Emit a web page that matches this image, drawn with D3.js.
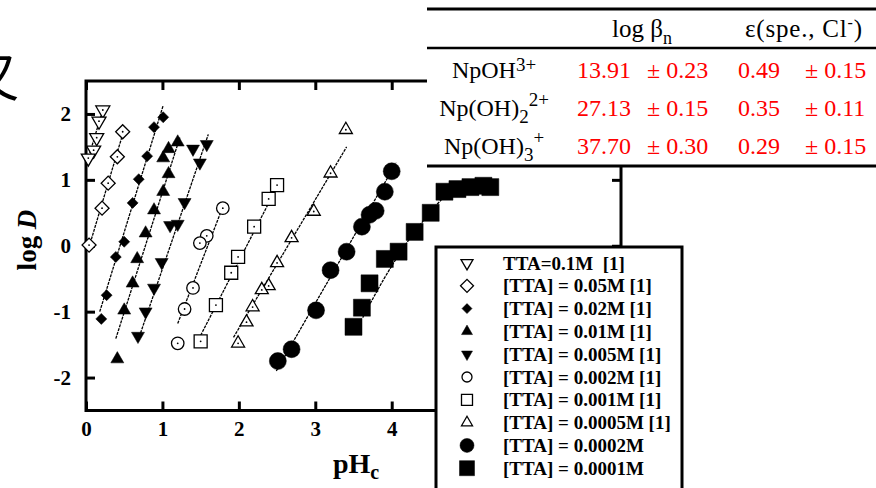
<!DOCTYPE html>
<html>
<head>
<meta charset="utf-8">
<script src="https://cdn.jsdelivr.net/npm/d3@7"></script>
<style>
  body { margin: 0; background: #fff; }
  svg text { font-family: "Liberation Serif", "Times New Roman", serif; }
</style>
</head>
<body>
<div id="main-vis"></div>
<script>
// log D vs pHc, one array per [TTA]
const tta01   = [[0.22, 2.06], [0.17, 1.89], [0.14, 1.64], [0.10, 1.45], [0.03, 1.33]]
const tta005  = [[0.48, 1.73], [0.41, 1.35], [0.29, 0.95], [0.21, 0.57], [0.04, 0.01]]
const tta002  = [[1.01, 1.95], [0.89, 1.80], [0.80, 1.36], [0.69, 1.01], [0.61, 0.65],
                 [0.50, 0.06], [0.39, -0.17], [0.27, -0.75], [0.20, -1.11]]
const tta001  = [[1.20, 1.57], [1.08, 1.47], [1.01, 1.33], [1.08, 1.09], [1.01, 0.82], [0.89, 0.54],
                 [0.78, 0.19], [0.67, -0.20], [0.61, -0.57], [0.50, -0.98], [0.41, -1.72]]
const tta0005 = [[1.58, 1.54], [1.40, 1.47], [1.49, 1.26], [1.29, 0.66], [1.20, 0.33],
                 [1.10, 0.31], [0.99, -0.25], [0.89, -0.64], [0.78, -1.00], [0.68, -1.37]]
const tta0002 = [[1.79, 0.57], [1.58, 0.15], [1.49, 0.04], [1.40, -0.64], [1.29, -0.96], [1.20, -1.48]]
const tta0001 = [[2.50, 0.92], [2.39, 0.71], [2.20, 0.29], [1.99, -0.17], [1.90, -0.41], [1.70, -0.90], [1.50, -1.45]]
const tta00005 = [[3.40, 1.76], [3.20, 1.10], [2.98, 0.52], [2.69, 0.12], [2.50, -0.26], [2.39, -0.61],
                  [2.30, -0.67], [2.18, -0.93], [2.10, -1.16], [1.99, -1.48]]
const tta00002 = [[4.00, 1.13], [3.91, 0.82], [3.79, 0.53], [3.71, 0.47], [3.61, 0.29],
                  [3.41, -0.09], [3.20, -0.37], [3.01, -0.98], [2.69, -1.57], [2.51, -1.75]]
const tta00001 = [[3.50, -1.23], [3.61, -0.94], [3.71, -0.57], [3.91, -0.20], [4.09, -0.09], [4.30, 0.21],
                  [4.51, 0.50], [4.69, 0.82], [4.86, 0.86], [5.03, 0.89], [5.20, 0.91], [5.29, 0.89]]

// fitted curves
const fits = [
  [[0.02, 1.29], [0.23, 2.10]],
  [[0.04, -0.02], [0.50, 1.77]],
  [[0.18, -1.00], [1.01, 2.13]],
  [[0.39, -1.41], [1.23, 1.65]],
  [[0.68, -1.44], [1.60, 1.69]],
  [[1.20, -1.18], [1.76, 0.50]],
  [[1.50, -1.36], [2.48, 0.85]],
  [[1.93, -1.39], [3.41, 1.50]],
  [[2.49, -1.90], [4.06, 1.26]],
  [[3.62, -1.09], [3.90, -0.50], [4.20, 0.05], [4.50, 0.50], [4.70, 0.75], [4.90, 0.86], [5.30, 0.90]]
]

const legendLabels = ["TTA=0.1M  [1]", "[TTA] = 0.05M [1]", "[TTA] = 0.02M [1]", "[TTA] = 0.01M [1]",
  "[TTA] = 0.005M [1]", "[TTA] = 0.002M [1]", "[TTA] = 0.001M [1]", "[TTA] = 0.0005M [1]",
  "[TTA] = 0.0002M", "[TTA] = 0.0001M"]
const allSeries = [tta01, tta005, tta002, tta001, tta0005, tta0002, tta0001, tta00005, tta00002, tta00001]
const shapes = ["triDown", "diamond", "diamond", "triUp", "triDown", "circle", "square", "triUp", "circle", "square"]
const filled = [false, false, true, true, true, false, false, false, true, true]
const xTicks = [0, 1, 2, 3, 4, 5, 6, 7]
const xTickLabels = ["0", "1", "2", "3", "4", "", "", ""]   // 5-7 sit under the legend box
const yTicks = [-2, -1, 0, 1, 2]

// table
const species    = ["NpOH", "Np(OH)", "Np(OH)"]
const speciesSub = ["", "2", "3"]
const speciesSup = ["3+", "2+", "+"]
const logBeta    = ["13.91", "27.13", "37.70"]
const logBetaErr = ["0.23", "0.15", "0.30"]
const eps        = ["0.49", "0.35", "0.29"]
const epsErr     = ["0.15", "0.11", "0.15"]

const plotSize = [14, 14, 11, 13, 13, 12.5, 13, 13, 17, 17]
const legSize  = [12, 13, 10, 11, 11, 10, 11, 11, 14, 15]

window.onload = setup

function symbolPath (shape, w) {
  if (shape === 'circle') return d3.symbol(d3.symbolCircle, Math.PI * (w / 2) ** 2)()
  if (shape === 'square') return d3.symbol(d3.symbolSquare, w * w)()
  if (shape === 'diamond') return d3.symbol(d3.symbolSquare, w * w / 2)()
  return d3.symbol(d3.symbolTriangle, Math.sqrt(3) / 4 * w * w)()
}
function symbolRot (shape) {
  if (shape === 'diamond') return 45
  if (shape === 'triDown') return 180
  return 0
}

function setup () {
  const svg = d3.select('#main-vis').append('svg')
    .attr('width', 876)
    .attr('height', 488)

  const x = d3.scaleLinear().domain([0, 7]).range([86, 621])
  const y = d3.scaleLinear().domain([-2.5, 2.5]).range([410.5, 81])

  // the cut off character at the left edge
  svg.append('text')
    .attr('x', -33).attr('y', 97)
    .style('font-family', '"Noto Sans CJK SC"')
    .attr('font-size', 52)
    .text('又')

  // axes, ticks pointing inward
  const styleAxis = g => {
    g.select('.domain').remove()
    g.selectAll('.tick line').attr('stroke-width', 3)
    g.attr('font-size', 21).attr('font-weight', 'bold').attr('font-family', null)
  }
  svg.append('g').attr('transform', `translate(0,${y(-2.5)})`)
    .call(d3.axisBottom(x).tickValues(xTicks).tickSize(-9).tickPadding(11).tickFormat((d, i) => xTickLabels[i]))
    .call(styleAxis)
  svg.append('g').attr('transform', `translate(0,${y(2.5)})`)
    .call(d3.axisTop(x).tickValues(xTicks).tickSize(-9).tickFormat(''))
    .call(styleAxis)
  svg.append('g').attr('transform', `translate(${x(0)},0)`)
    .call(d3.axisLeft(y).tickValues(yTicks).tickSize(-9).tickPadding(15).tickFormat(d => String(d)))
    .call(styleAxis)
  svg.append('g').attr('transform', `translate(${x(7)},0)`)
    .call(d3.axisRight(y).tickValues(yTicks).tickSize(-9).tickFormat(''))
    .call(styleAxis)

  svg.append('rect')
    .attr('x', x(0)).attr('y', y(2.5))
    .attr('width', x(7) - x(0)).attr('height', y(-2.5) - y(2.5))
    .attr('fill', 'none').attr('stroke', 'black').attr('stroke-width', 3)

  // axis titles
  svg.append('text')
    .attr('transform', 'translate(36,240) rotate(-90)')
    .attr('text-anchor', 'middle')
    .attr('font-size', 27).attr('font-weight', 'bold')
    .call(t => {
      t.append('tspan').text('log ')
      t.append('tspan').attr('font-style', 'italic').text('D')
    })
  svg.append('text')
    .attr('x', 333).attr('y', 473)
    .attr('font-size', 28).attr('font-weight', 'bold')
    .call(t => {
      t.append('tspan').text('pH')
      t.append('tspan').attr('font-size', 20).attr('dy', 6).text('c')
    })

  // fitted lines
  const line = d3.line().x(d => x(d[0])).y(d => y(d[1])).curve(d3.curveMonotoneX)
  svg.append('g').selectAll('path')
    .data(fits.map(f => f.slice().sort((a, b) => a[0] - b[0])))
    .join('path')
    .attr('d', line)
    .attr('fill', 'none')
    .attr('stroke', 'black')
    .attr('stroke-width', 1.3)
    .attr('stroke-dasharray', '3,1')

  // markers
  allSeries.forEach((pts, i) => {
    const g = svg.append('g')
    g.selectAll('path')
      .data(pts)
      .join('path')
      .attr('transform', d => `translate(${x(d[0])},${y(d[1])}) rotate(${symbolRot(shapes[i])})`)
      .attr('d', symbolPath(shapes[i], plotSize[i]))
      .attr('fill', filled[i] ? 'black' : 'white')
      .attr('stroke', 'black')
      .attr('stroke-width', filled[i] ? 0.5 : 1.3)
    if (!filled[i]) {
      g.selectAll('circle')
        .data(pts)
        .join('circle')
        .attr('cx', d => x(d[0]))
        .attr('cy', d => y(d[1]))
        .attr('r', 0.9)
        .attr('fill', 'black')
    }
  })

  // table, over the top right of the plot
  const tab = svg.append('g')
  tab.append('rect').attr('x', 427).attr('y', 0).attr('width', 449).attr('height', 166).attr('fill', 'white')
  ;[[9, 3], [48, 2.5], [166, 3]].forEach(([ly, lw]) => {
    tab.append('line').attr('x1', 427).attr('x2', 876).attr('y1', ly).attr('y2', ly)
      .attr('stroke', 'black').attr('stroke-width', lw)
  })
  tab.append('text').attr('x', 612).attr('y', 37).attr('font-size', 25)
    .call(t => {
      t.append('tspan').text('log β')
      t.append('tspan').attr('font-size', 18).attr('dy', 7).text('n')
    })
  tab.append('text').attr('x', 745).attr('y', 37).attr('font-size', 25).attr('letter-spacing', 0.8)
    .call(t => {
      t.append('tspan').text('ε(spe., Cl')
      t.append('tspan').attr('font-size', 16).attr('dy', -9).text('-')
      t.append('tspan').attr('dy', 9).text(')')
    })
  const rowY = [78, 116, 154]
  species.forEach((s, i) => {
    tab.append('text').attr('x', 494).attr('y', rowY[i]).attr('font-size', 24).attr('text-anchor', 'middle')
      .call(t => {
        t.append('tspan').text(s)
        if (speciesSub[i]) {
          t.append('tspan').attr('font-size', 19).attr('dy', 7).text(speciesSub[i])
          t.append('tspan').attr('font-size', 19).attr('dy', -17).text(speciesSup[i])
        } else {
          t.append('tspan').attr('font-size', 19).attr('dy', -7).text(speciesSup[i])
        }
      })
    const red = '#ff0000'
    tab.append('text').attr('x', 577).attr('y', rowY[i]).attr('font-size', 24).attr('fill', red).text(logBeta[i])
    tab.append('text').attr('x', 647).attr('y', rowY[i]).attr('font-size', 24).attr('fill', red).text('± ' + logBetaErr[i])
    tab.append('text').attr('x', 738).attr('y', rowY[i]).attr('font-size', 24).attr('fill', red).text(eps[i])
    tab.append('text').attr('x', 805).attr('y', rowY[i]).attr('font-size', 24).attr('fill', red).text('± ' + epsErr[i])
  })

  // legend box
  const leg = svg.append('g')
  leg.append('rect').attr('x', 436).attr('y', 247).attr('width', 246).attr('height', 260)
    .attr('fill', 'white').attr('stroke', 'black').attr('stroke-width', 3)
  const rows = leg.selectAll('g.row')
    .data(legendLabels)
    .join('g')
    .attr('class', 'row')
    .attr('transform', (d, i) => `translate(0,${263 + i * 22.8})`)
  rows.append('path')
    .attr('transform', (d, i) => `translate(467,0) rotate(${symbolRot(shapes[i])})`)
    .attr('d', (d, i) => symbolPath(shapes[i], legSize[i]))
    .attr('fill', (d, i) => filled[i] ? 'black' : 'white')
    .attr('stroke', 'black')
    .attr('stroke-width', (d, i) => filled[i] ? 0.5 : 1.3)
  rows.append('text')
    .attr('x', 503).attr('y', 6.5)
    .attr('font-size', 19).attr('font-weight', 'bold')
    .style('white-space', 'pre')
    .text(d => d)
}
</script>
</body>
</html>
